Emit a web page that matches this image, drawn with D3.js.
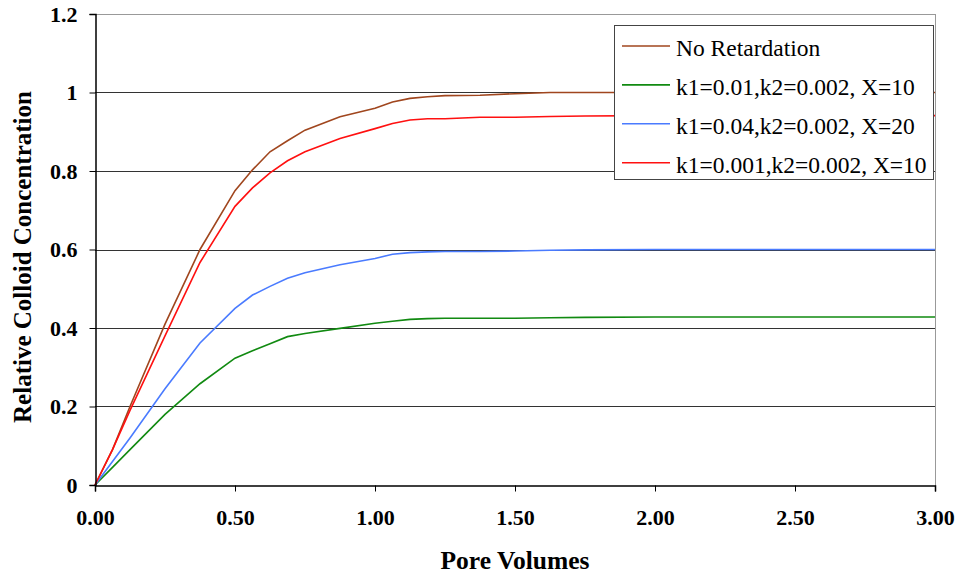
<!DOCTYPE html>
<html>
<head>
<meta charset="utf-8">
<script src="https://cdn.jsdelivr.net/npm/d3@7"></script>
<style>
  body { margin: 0; background: #fff; }
  svg { display: block; }
  svg text { font-family: "Liberation Serif", "Times New Roman", serif; }
</style>
</head>
<body>
<div id="chart"></div>
<script>
const width = 956
const height = 577
const margin = {top: 14, right: 21, bottom: 92, left: 95}

// pore volumes (shared x values)
const poreVolumes = [0, 0.0625, 0.125, 0.25, 0.375, 0.5, 0.5625, 0.625, 0.6875, 0.75, 0.875, 1.0,
  1.0625, 1.125, 1.1875, 1.25, 1.375, 1.5, 1.625, 1.75, 2.0, 2.5, 3.0]

const noRetardation = [0, 0.09, 0.2, 0.41, 0.6, 0.75, 0.803, 0.849, 0.877, 0.904, 0.938, 0.96,
  0.976, 0.985, 0.989, 0.992, 0.993, 0.997, 1.0, 1.0, 1.0, 1.0, 1.0]
const k1_001 = [0, 0.045, 0.09, 0.18, 0.258, 0.323, 0.342, 0.36, 0.378, 0.386, 0.399, 0.412,
  0.417, 0.422, 0.424, 0.425, 0.425, 0.425, 0.426, 0.427, 0.428, 0.428, 0.428]
const k1_004 = [0, 0.06, 0.12, 0.245, 0.362, 0.45, 0.484, 0.506, 0.527, 0.541, 0.561, 0.577,
  0.588, 0.592, 0.594, 0.595, 0.595, 0.596, 0.598, 0.599, 0.6, 0.6, 0.6]
const k1_0001 = [0, 0.09, 0.19, 0.38, 0.567, 0.71, 0.757, 0.795, 0.826, 0.849, 0.883, 0.908,
  0.921, 0.93, 0.933, 0.933, 0.937, 0.937, 0.939, 0.94, 0.941, 0.941, 0.941]

const seriesNames = ["No Retardation", "k1=0.01,k2=0.002, X=10", "k1=0.04,k2=0.002, X=20", "k1=0.001,k2=0.002, X=10"]
const seriesValues = [noRetardation, k1_001, k1_004, k1_0001]
const seriesColors = ["#a0461e", "#118a11", "#4a7bff", "#ff1010"]

const xTicks = [0, 0.5, 1.0, 1.5, 2.0, 2.5, 3.0]
const yTicks = [0, 0.2, 0.4, 0.6, 0.8, 1.0, 1.2]

const svg = d3.select("#chart").append("svg")
  .attr("width", width)
  .attr("height", height)

const x = d3.scaleLinear().domain([0, 3]).range([margin.left, width - margin.right])
const y = d3.scaleLinear().domain([0, 1.2]).range([height - margin.bottom, margin.top])

// gridlines
svg.append("g")
  .selectAll("line")
  .data(yTicks.filter(d => d > 0))
  .join("line")
    .attr("x1", x(0)).attr("x2", x(3))
    .attr("y1", d => Math.round(y(d)) + 0.5).attr("y2", d => Math.round(y(d)) + 0.5)
    .attr("stroke", d => d === 1.2 ? "#999" : "#333")
    .attr("stroke-width", 1)

// right border
svg.append("line")
  .attr("x1", Math.round(x(3)) + 0.5).attr("x2", Math.round(x(3)) + 0.5)
  .attr("y1", y(1.2)).attr("y2", y(0))
  .attr("stroke", "#999")

// lines
const line = d3.line()
  .x((d, i) => x(poreVolumes[i]))
  .y(d => y(d))

svg.append("g")
  .selectAll("path")
  .data(seriesValues)
  .join("path")
    .attr("d", line)
    .attr("fill", "none")
    .attr("stroke", (d, i) => seriesColors[i])
    .attr("stroke-width", 1.6)

// axes
const yAxis = svg.append("g")
  .attr("transform", `translate(${Math.round(x(0)) + 0.5},0)`)
  .call(d3.axisLeft(y).tickValues(yTicks).tickSize(6).tickPadding(12).tickFormat(d3.format("")))
yAxis.select(".domain").attr("stroke", "#000").attr("stroke-width", 1.5)
yAxis.selectAll(".tick line").attr("stroke", "#000")
yAxis.selectAll("text")
  .attr("font-size", 22).attr("font-weight", "bold").attr("fill", "#000")

const xAxis = svg.append("g")
  .attr("transform", `translate(0,${Math.round(y(0)) + 0.5})`)
  .call(d3.axisBottom(x).tickValues(xTicks).tickSize(6).tickPadding(18).tickFormat(d3.format(".2f")))
xAxis.select(".domain").attr("stroke", "#000").attr("stroke-width", 1.5)
xAxis.selectAll(".tick line").attr("stroke", "#000")
xAxis.selectAll("text")
  .attr("font-size", 22).attr("font-weight", "bold").attr("fill", "#000")

// axis titles
svg.append("text")
  .attr("x", (x(0) + x(3)) / 2)
  .attr("y", 569)
  .attr("text-anchor", "middle")
  .attr("font-size", 25.5).attr("font-weight", "bold")
  .text("Pore Volumes")

svg.append("text")
  .attr("transform", "translate(31,257) rotate(-90)")
  .attr("text-anchor", "middle")
  .attr("font-size", 25).attr("font-weight", "bold")
  .text("Relative Colloid Concentration")

// legend
const legend = svg.append("g").attr("transform", "translate(614,25)")
legend.append("rect")
  .attr("x", 0.5).attr("y", 0.5)
  .attr("width", 319).attr("height", 154)
  .attr("fill", "#fff").attr("stroke", "#444")

const item = legend.selectAll("g.item")
  .data(seriesNames)
  .join("g")
    .attr("class", "item")
    .attr("transform", (d, i) => `translate(0,${21 + i * 38.9})`)
item.append("line")
  .attr("x1", 8).attr("x2", 56)
  .attr("stroke", (d, i) => seriesColors[i])
  .attr("stroke-width", 1.6)
item.append("text")
  .attr("x", 62).attr("dy", "0.43em")
  .attr("font-size", 23.5)
  .text(d => d)
</script>
</body>
</html>
